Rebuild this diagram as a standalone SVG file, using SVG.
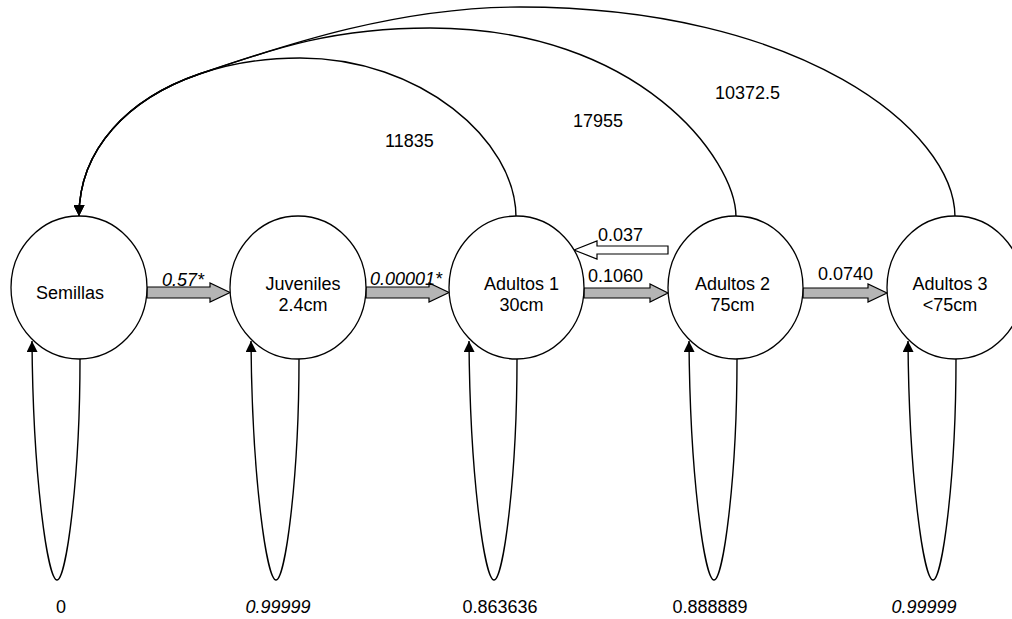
<svg xmlns="http://www.w3.org/2000/svg" width="1012" height="619" viewBox="0 0 1012 619">
<style>
.node{fill:#fff;stroke:#000;stroke-width:1.3}
.t{font-family:"Liberation Sans",Arial,sans-serif;font-size:18px;fill:#000}
.m{text-anchor:middle}
.i{font-style:italic}
.c{fill:none;stroke:#000;stroke-width:1.4}
.ga{fill:#b5b5b5;stroke:#000;stroke-width:1.2}
.wa{fill:#fff;stroke:#000;stroke-width:1.2}
</style>
<defs>
<marker id="ah" viewBox="0 0 10 10" refX="10" refY="5" markerWidth="11" markerHeight="11" markerUnits="userSpaceOnUse" orient="auto">
<path d="M0,0 L10,5 L0,10 Z" fill="#000"/>
</marker>
</defs>
<g id="connectors">
<path class="c" d="M516,217 C516,140 420,58 300,58 C264,58 229.7,63.6 199.3,74 C128.5,98.3 79,148.8 79,216" marker-end="url(#ah)"/>
<path class="c" d="M736,217 C736,160 640,28 430,28 C330,28 270,50 199.3,74 C128.5,98.3 79,148.8 79,216" marker-end="url(#ah)"/>
<path class="c" d="M955,217 C955,130 800,7 520,7 C400,7 290,43 199.3,74 C128.5,98.3 79,148.8 79,216" marker-end="url(#ah)"/>
<path class="c" d="M80,359 C80,480 66,580 57,580 C48,580 33,480 32,341" marker-end="url(#ah)"/>
<path class="c" d="M299,359 C299,480 285,580 276,580 C267,580 252,480 251,341" marker-end="url(#ah)"/>
<path class="c" d="M517,359 C517,480 503,580 494,580 C485,580 470,480 469,341" marker-end="url(#ah)"/>
<path class="c" d="M737,359 C737,480 723,580 714,580 C705,580 690,480 689,341" marker-end="url(#ah)"/>
<path class="c" d="M956,359 C956,480 942,580 933,580 C924,580 909,480 908,341" marker-end="url(#ah)"/>
<polygon class="ga" points="147,287 210,287 210,283 230,292.5 210,302 210,298 147,298"/>
<polygon class="ga" points="366,287 429,287 429,283 449,292.5 429,302 429,298 366,298"/>
<polygon class="ga" points="584,288 650,288 650,284 668,293 650,302 650,298 584,298"/>
<polygon class="ga" points="803,288 868,288 868,284 887,293 868,302 868,298 803,298"/>
<polygon class="wa" points="574,250 597,241 597,246 668,246 668,254 597,254 597,259"/>
<text class="t i" x="162" y="286">0.57*</text>
<text class="t i" x="370" y="285">0.00001*</text>
<text class="t" x="588" y="282">0.1060</text>
<text class="t" x="818" y="280">0.0740</text>
<text class="t" x="598" y="241">0.037</text>
<text class="t" x="385" y="147">11835</text>
<text class="t" x="573" y="127">17955</text>
<text class="t" x="715" y="99">10372.5</text>
<text class="t m" x="61" y="613">0</text>
<text class="t m i" x="278" y="613">0.99999</text>
<text class="t m" x="500" y="613">0.863636</text>
<text class="t m" x="710" y="613">0.888889</text>
<text class="t m i" x="924" y="613">0.99999</text>
</g>
<g id="semillas">
<ellipse class="node" cx="79" cy="287.5" rx="68" ry="71.5"/>
<text class="t m" x="70" y="299">Semillas</text>
</g>
<g id="juveniles">
<ellipse class="node" cx="298" cy="287.5" rx="68" ry="71.5"/>
<text class="t m" x="303" y="290">Juveniles</text>
<text class="t m" x="303" y="311">2.4cm</text>
</g>
<g id="adultos1">
<ellipse class="node" cx="516.5" cy="287.5" rx="67.5" ry="71.5"/>
<text class="t m" x="521.5" y="290">Adultos 1</text>
<text class="t m" x="521.5" y="311">30cm</text>
</g>
<g id="adultos2">
<ellipse class="node" cx="735.5" cy="287.5" rx="67.5" ry="71.5"/>
<text class="t m" x="732.5" y="290">Adultos 2</text>
<text class="t m" x="732.5" y="311">75cm</text>
</g>
<g id="adultos3">
<ellipse class="node" cx="955" cy="287.5" rx="68" ry="71.5"/>
<text class="t m" x="950" y="290">Adultos 3</text>
<text class="t m" x="950" y="311">&lt;75cm</text>
</g>
</svg>
